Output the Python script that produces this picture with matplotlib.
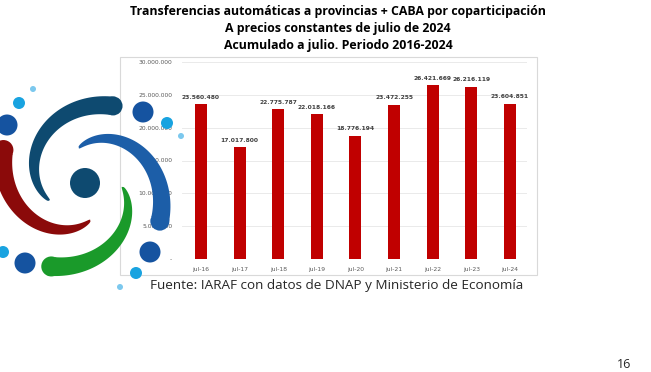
import numpy as np
import matplotlib
matplotlib.use('Agg')
import matplotlib.pyplot as plt
from matplotlib.patches import Rectangle, Circle, Polygon

# datos del grafico
periodos = ['jul-16', 'jul-17', 'jul-18', 'jul-19', 'jul-20',
            'jul-21', 'jul-22', 'jul-23', 'jul-24']
valores = [23560480, 17017800, 22775787, 22018166, 18776194,
           23472255, 26421669, 26216119, 23604851]
y_ticks = [0, 5000000, 10000000, 15000000, 20000000, 25000000, 30000000]

titulo = ['Transferencias automáticas a provincias + CABA por coparticipación',
          'A precios constantes de julio de 2024',
          'Acumulado a julio. Periodo 2016-2024']
fuente = 'Fuente: IARAF con datos de DNAP y Ministerio de Economía'


def miles(v):
    if v == 0:
        return '-'
    return f'{v:,.0f}'.replace(',', '.')


def brazo(ax, cx, cy, a0, a1, r0, r1, w0, w1, color):
    # brazo del logo: arco en espiral que se ensancha
    t = np.linspace(0, 1, 80)
    ang = np.radians(a0 + (a1 - a0) * t)
    r = r0 + (r1 - r0) * t
    w = w0 + (w1 - w0) * t ** 0.6
    ro = r + w / 2
    ri = r - w / 2
    xo, yo = cx + ro * np.cos(ang), cy - ro * np.sin(ang)
    xi, yi = cx + ri * np.cos(ang), cy - ri * np.sin(ang)
    pts = np.column_stack([np.r_[xo, xi[::-1]], np.r_[yo, yi[::-1]]])
    ax.add_patch(Polygon(pts, closed=True, color=color, lw=0))
    ax.add_patch(Circle((cx + r[-1] * np.cos(ang[-1]), cy - r[-1] * np.sin(ang[-1])),
                        w1 / 2, color=color, lw=0))


fig = plt.figure(figsize=(6.51, 3.72), dpi=100)
fig.patch.set_facecolor('white')

# marco del grafico
fig.patches.append(Rectangle((120 / 651, 1 - 275 / 372), 417 / 651, 218 / 372,
                             transform=fig.transFigure, fill=False,
                             edgecolor='#d9d9d9', lw=0.8))

ax = fig.add_axes([182 / 651, 1 - 259 / 372, 345 / 651, 197 / 372])
x = np.arange(len(periodos))
ax.bar(x, valores, width=0.31, color='#c00000', zorder=2)
for xi, v in zip(x, valores):
    ax.text(xi, v + 700000, miles(v), ha='center', va='bottom',
            fontsize=4.3, fontweight='bold', color='#404040')

ax.set_ylim(0, 30000000)
ax.set_xlim(-0.49, 8.44)
ax.set_yticks(y_ticks)
ax.set_yticklabels([miles(v) for v in y_ticks])
ax.set_xticks(x)
ax.set_xticklabels(periodos)
ax.tick_params(axis='both', length=0, labelsize=4.3, labelcolor='#595959')
ax.tick_params(axis='y', pad=7)
ax.tick_params(axis='x', pad=6)
ax.grid(axis='y', color='#e6e6e6', lw=0.6, zorder=0)
for s in ax.spines.values():
    s.set_visible(False)
ax.axhline(0, color='#d9d9d9', lw=0.6, zorder=1)

# titulo
for i, linea in enumerate(titulo):
    fig.text(338 / 651, 1 - (12 + 16.5 * i) / 372, linea, ha='center', va='center',
             fontsize=8.9, fontweight='bold', family='Open Sans', color='black')

fig.text(150 / 651, 1 - 286 / 372, fuente, ha='left', va='center',
         fontsize=9.7, family='Open Sans', color='#262626')
fig.text(624 / 651, 1 - 364 / 372, '16', ha='center', va='center',
         fontsize=9, family='Open Sans', color='#262626')

# logo superpuesto
lg = fig.add_axes([0, 0, 1, 1], zorder=5)
lg.set_xlim(0, 651)
lg.set_ylim(372, 0)
lg.axis('off')
cx, cy = 85, 183
brazo(lg, cx, cy, 206, 70, 40, 82, 2, 19, '#0e4a70')
brazo(lg, cx, cy, 100, -27, 36, 84, 2, 19, '#1c5ea8')
brazo(lg, cx, cy, -6, -112, 38, 90, 2, 20, '#1a9a2a')
brazo(lg, cx, cy, 278, 158, 38, 88, 2, 20, '#8b0a0a')
lg.add_patch(Circle((cx, cy), 15, color='#0e4a70', lw=0))
for px, py in [(7, 125), (143, 112), (150, 252), (25, 263)]:
    lg.add_patch(Circle((px, py), 10.5, color='#1553a0', lw=0))
for px, py in [(19, 103), (167, 123), (136, 273), (3, 252)]:
    lg.add_patch(Circle((px, py), 6, color='#19a3e0', lw=0))
for px, py in [(33, 89), (181, 136), (120, 287)]:
    lg.add_patch(Circle((px, py), 3, color='#7cc8ee', lw=0))

fig.savefig('out.png', dpi=100)
